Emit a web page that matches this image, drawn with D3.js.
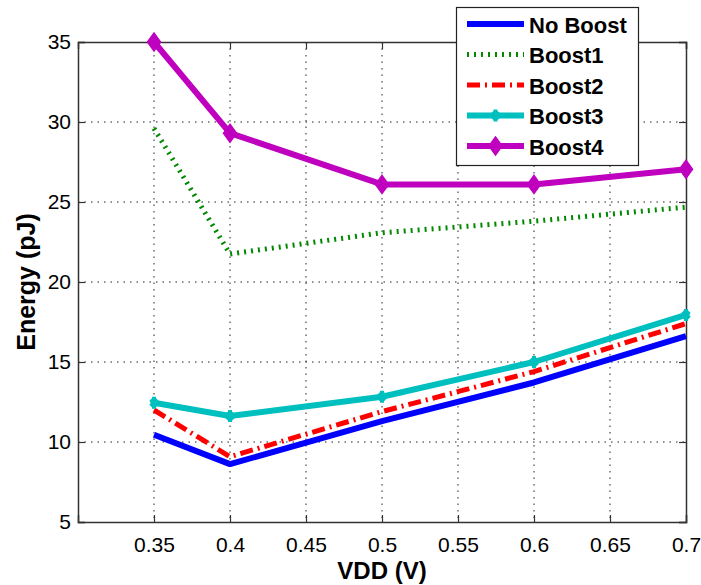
<!DOCTYPE html>
<html>
<head>
<meta charset="utf-8">
<script src="https://cdn.jsdelivr.net/npm/d3@7"></script>
<style>
html,body{margin:0;padding:0;background:#fff;}
svg{display:block;font-family:"Liberation Sans",Arial,sans-serif;}
</style>
</head>
<body>
<svg id="chart" width="701" height="585"></svg>
<script>
const vdd = [0.35, 0.4, 0.5, 0.6, 0.7];
const noBoost = [10.45, 8.62, 11.3, 13.72, 16.62];
const boost1 = [29.6, 21.75, 23.08, 23.8, 24.68];
const boost2 = [12.0, 9.08, 11.9, 14.4, 17.4];
const boost3 = [12.45, 11.62, 12.83, 15.0, 17.94];
const boost4 = [35.0, 29.3, 26.1, 26.1, 27.05];
const xTicks = [0.35, 0.4, 0.45, 0.5, 0.55, 0.6, 0.65, 0.7];
const yTicks = [5, 10, 15, 20, 25, 30, 35];
const seriesNames = ["No Boost", "Boost1", "Boost2", "Boost3", "Boost4"];

(function () {
const series = [
  {name: seriesNames[0], values: noBoost, color: "#0000ff", width: 6, dash: null, marker: null},
  {name: seriesNames[1], values: boost1, color: "#008a00", width: 5, dash: "2,5", marker: null},
  {name: seriesNames[2], values: boost2, color: "#ff0000", width: 5, dash: "13,5,2,5", marker: null},
  {name: seriesNames[3], values: boost3, color: "#00bfbf", width: 6, dash: null, marker: "star"},
  {name: seriesNames[4], values: boost4, color: "#bf00bf", width: 6, dash: null, marker: "diamond"}
];

const svg = d3.select("#chart");
const mL = 78, mR = 686, mT = 42, mB = 522;
const x = d3.scaleLinear().domain([0.3, 0.7]).range([mL, mR]);
const y = d3.scaleLinear().domain([5, 35]).range([mB, mT]);

// grid
const grid = svg.append("g");
grid.selectAll("line.gx").data(xTicks.filter(t => t < 0.7)).enter().append("line")
  .attr("x1", d => x(d)).attr("x2", d => x(d)).attr("y1", mT).attr("y2", mB)
  .attr("stroke", "#222").attr("stroke-width", 1).attr("stroke-dasharray", "1.5,5");
grid.selectAll("line.gy").data(yTicks.filter(t => t > 5 && t < 35)).enter().append("line")
  .attr("x1", mL).attr("x2", mR).attr("y1", d => y(d)).attr("y2", d => y(d))
  .attr("stroke", "#222").attr("stroke-width", 1).attr("stroke-dasharray", "1.5,5");

// axes with inward ticks
const fmt = d => String(d);
const xAxis = svg.append("g").attr("transform", `translate(0,${mB})`)
  .call(d3.axisBottom(x).tickValues(xTicks).tickFormat(fmt).tickSize(-7).tickPadding(16));
const xTop = svg.append("g").attr("transform", `translate(0,${mT})`)
  .call(d3.axisTop(x).tickValues(xTicks).tickFormat("").tickSize(-7));
const yAxis = svg.append("g").attr("transform", `translate(${mL},0)`)
  .call(d3.axisLeft(y).tickValues(yTicks).tickFormat(fmt).tickSize(-7).tickPadding(14));
const yRight = svg.append("g").attr("transform", `translate(${mR},0)`)
  .call(d3.axisRight(y).tickValues(yTicks).tickFormat("").tickSize(-7));
[xAxis, xTop, yAxis, yRight].forEach(g => {
  g.select(".domain").attr("stroke", "#333").attr("stroke-width", 1.5);
  g.selectAll(".tick line").attr("stroke", "#333").attr("stroke-width", 1.2);
  g.selectAll(".tick text").attr("fill", "#000").style("font-size", "21px")
    .style("font-family", "'Liberation Sans', Arial, sans-serif");
});
xAxis.selectAll(".tick text").attr("dy", "0.71em").attr("y", 15);
yAxis.selectAll(".tick text").attr("x", -7);

// lines
const line = d3.line().x((d, i) => x(vdd[i])).y(d => y(d));
series.forEach(s => {
  svg.append("path").datum(s.values).attr("d", line)
    .attr("fill", "none").attr("stroke", s.color).attr("stroke-width", s.width)
    .attr("stroke-linejoin", "round")
    .attr("stroke-dasharray", s.dash);
});

function drawMarker(g, type, cx, cy, color) {
  if (type === "diamond") {
    g.append("path").attr("d", `M${cx},${cy - 9} L${cx + 6.5},${cy} L${cx},${cy + 9} L${cx - 6.5},${cy} Z`)
      .attr("fill", color).attr("stroke", color).attr("stroke-width", 1.5);
  } else if (type === "star") {
    const r = 6;
    const p = `M${cx},${cy - r}L${cx},${cy + r}M${cx - r * 0.6},${cy}L${cx + r * 0.6},${cy}` +
      `M${cx - r * 0.55},${cy - r * 0.55}L${cx + r * 0.55},${cy + r * 0.55}M${cx - r * 0.55},${cy + r * 0.55}L${cx + r * 0.55},${cy - r * 0.55}`;
    g.append("path").attr("d", p).attr("stroke", color).attr("stroke-width", 4).attr("fill", "none");
  }
}
series.forEach(s => {
  if (!s.marker) return;
  const g = svg.append("g");
  s.values.forEach((v, i) => drawMarker(g, s.marker, x(vdd[i]), y(v), s.color));
});

// axis titles
svg.append("text").attr("x", (mL + mR) / 2).attr("y", 579).attr("text-anchor", "middle")
  .style("font-size", "24px").style("font-weight", "bold").text("VDD (V)");
svg.append("text").attr("transform", `translate(35,${(mT + mB) / 2}) rotate(-90)`)
  .attr("text-anchor", "middle").style("font-size", "25px").style("font-weight", "bold").text("Energy (pJ)");

// legend
const lg = svg.append("g");
lg.append("rect").attr("x", 456.5).attr("y", 7.5).attr("width", 182).attr("height", 158)
  .attr("fill", "#fff").attr("stroke", "#222").attr("stroke-width", 1.2);
series.forEach((s, i) => {
  const cy = 24 + i * 30.5;
  lg.append("line").attr("x1", 467).attr("x2", 524).attr("y1", cy).attr("y2", cy)
    .attr("stroke", s.color).attr("stroke-width", s.width).attr("stroke-dasharray", s.dash);
  if (s.marker) drawMarker(lg, s.marker, 495.5, cy, s.color);
  lg.append("text").attr("x", 529).attr("y", cy + 8.5)
    .style("font-size", "22px").style("font-weight", "bold").text(s.name);
});
})();
</script>
</body>
</html>
